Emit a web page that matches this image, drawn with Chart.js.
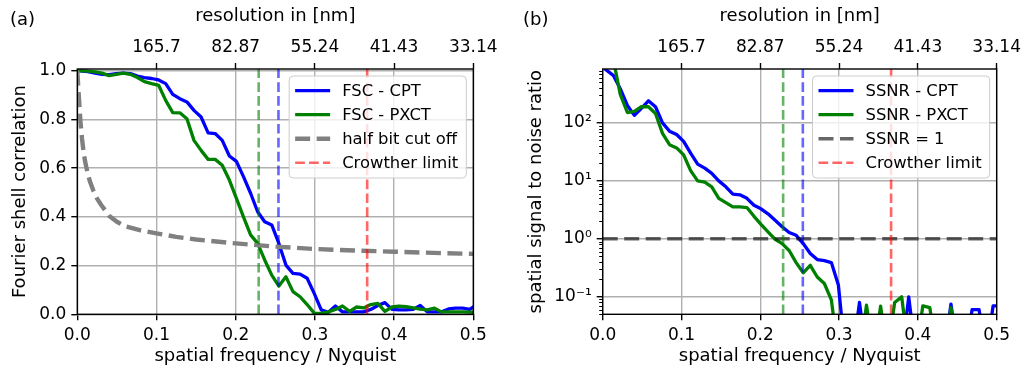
<!DOCTYPE html>
<html>
<head>
<meta charset="utf-8">
<script src="https://cdn.jsdelivr.net/npm/chart.js@4.4.1/dist/chart.umd.min.js"></script>
<style>
  html, body { margin: 0; padding: 0; background: #fff; }
  #wrap { position: relative; width: 1026px; height: 371px; }
  canvas { position: absolute; top: 0; }
  #fsc { left: 0; }
  #ssnr { left: 513px; }
</style>
</head>
<body>
<div id="wrap">
  <canvas id="fsc" width="513" height="371"></canvas>
  <canvas id="ssnr" width="513" height="371"></canvas>
</div>
<script>
// =====================================================
// DATA
// =====================================================
// spatial frequency / Nyquist of each shell
const freq = [0, 0.0134, 0.0223, 0.0313, 0.0402, 0.0491, 0.0580, 0.0670, 0.0759, 0.0848,
  0.0938, 0.1027, 0.1116, 0.1205, 0.1295, 0.1384, 0.1473, 0.1563, 0.1652, 0.1741,
  0.1830, 0.1920, 0.2009, 0.2098, 0.2188, 0.2277, 0.2366, 0.2455, 0.2545, 0.2634,
  0.2723, 0.2813, 0.2902, 0.2991, 0.3080, 0.3170, 0.3259, 0.3348, 0.3438, 0.3527,
  0.3616, 0.3705, 0.3795, 0.3884, 0.3973, 0.4063, 0.4152, 0.4241, 0.4330, 0.4420,
  0.4509, 0.4598, 0.4688, 0.4777, 0.4866, 0.4955, 0.5045];

const fscCpt = [1.0, 0.996, 0.99, 0.985, 0.984, 0.988, 0.99, 0.988, 0.978, 0.972,
  0.968, 0.962, 0.947, 0.903, 0.885, 0.872, 0.837, 0.81, 0.745, 0.742,
  0.714, 0.65, 0.628, 0.565, 0.497, 0.421, 0.38, 0.367, 0.291, 0.202,
  0.168, 0.165, 0.148, 0.086, 0.018, 0.008, 0.034, 0.01, 0.01, 0.01,
  0.01, 0.02, 0.036, 0.048, 0.02, 0.018, 0.018, 0.02, 0.036, 0.01,
  0.01, 0.01, 0.022, 0.025, 0.025, 0.02, 0.04];

const fscPxct = [1.0, 0.998, 0.995, 0.99, 0.98, 0.985, 0.99, 0.985, 0.972, 0.955,
  0.947, 0.94, 0.878, 0.828, 0.827, 0.803, 0.714, 0.673, 0.636, 0.636,
  0.612, 0.551, 0.476, 0.40, 0.326, 0.291, 0.223, 0.161, 0.116, 0.154,
  0.093, 0.072, 0.04, 0.005, 0.004, 0.01, 0.02, 0.034, 0.012, 0.03,
  0.026, 0.04, 0.045, 0.012, 0.03, 0.034, 0.031, 0.026, 0.021, 0.018,
  0.025, 0.01, 0.01, 0.01, 0.01, 0.009, 0.008];

const halfBitFreq = [0, 0.002, 0.004, 0.006, 0.008, 0.01, 0.013, 0.016, 0.02, 0.025,
  0.03, 0.04, 0.05, 0.06, 0.08, 0.1, 0.125, 0.15, 0.2, 0.25, 0.3, 0.35, 0.4, 0.45, 0.5];
const halfBitValues = [1.0, 0.89, 0.79, 0.72, 0.665, 0.625, 0.58, 0.545, 0.51, 0.475,
  0.45, 0.405, 0.38, 0.362, 0.345, 0.332, 0.318, 0.307, 0.291, 0.278, 0.268, 0.262, 0.257, 0.252, 0.248];

const ssnrCpt = [912, 661, 389, 200, 135, 178, 240, 190, 100, 72,
  63, 48, 30, 19.5, 16.6, 13.5, 10, 7.9, 5.9, 5.75,
  5.0, 3.8, 3.3, 2.7, 2.1, 1.62, 1.29, 1.15, 0.83, 0.56,
  0.44, 0.42, 0.39, 0.16, 0.01, 0.01, 0.08, 0.01, 0.01, 0.01,
  0.01, 0.01, 0.01, 0.1, 0.01, 0.01, 0.01, 0.01, 0.01, 0.075,
  0.01, 0.01, 0.06, 0.06, 0.01, 0.07, 0.07];

const ssnrPxct = [3000, 1260, 309, 151, 158, 190, 190, 145, 66, 42,
  37, 28, 15, 10, 9.5, 7.9, 5.0, 4.2, 3.55, 3.55,
  3.47, 2.45, 1.78, 1.32, 0.98, 0.83, 0.63, 0.39, 0.26, 0.35,
  0.22, 0.17, 0.089, 0.01, 0.01, 0.01, 0.01, 0.072, 0.01, 0.069,
  0.01, 0.08, 0.1, 0.01, 0.01, 0.07, 0.065, 0.01, 0.01, 0.065,
  0.01, 0.01, 0.01, 0.01, 0.01, 0.01, 0.01];

const ssnrThreshold = 1;
const cutoffPxct = 0.229;
const cutoffCpt = 0.254;
const crowtherLimit = 0.366;

const bottomTicks = [0, 0.1, 0.2, 0.3, 0.4, 0.5];
const topTicks = [0.1, 0.2, 0.3, 0.4, 0.5];
const topTickLabels = ['165.7', '82.87', '55.24', '41.43', '33.14'];
const fscTicks = [0, 0.2, 0.4, 0.6, 0.8, 1.0];
const ssnrTicks = [0.1, 1, 10, 100];
const ssnrTickLabels = ['10\u207B\u00B9', '10\u2070', '10\u00B9', '10\u00B2'];

// =====================================================
// STYLE
// =====================================================
const FONT = 'DejaVu Sans';
const FS = 17;          // tick labels
const TITLE_FS = 18;    // axis titles
const LEGEND_FS = 16.4; // legend entries
Chart.defaults.font.family = FONT;
Chart.defaults.font.size = FS;
Chart.defaults.color = '#000';
Chart.defaults.animation = false;

const BLUE = '#0000ff';
const GREEN = '#008000';
const GRAY = '#808080';
const DARKGRAY = 'rgba(0,0,0,0.6)';
const RED_A = 'rgba(255,0,0,0.6)';
const BLUE_A = 'rgba(0,0,255,0.6)';
const GREEN_A = 'rgba(0,128,0,0.6)';
const GRID = '#b0b0b0';

const CURVE_W = 3.3;
const VDASH = [9.7, 4.2];
const BIGDASH = [15, 6.5];

const pts = (xs, ys) => xs.map((x, i) => ({ x, y: ys[i] }));
const vline = (x, lo, hi) => [{ x, y: lo }, { x, y: hi }];

function lineSet(label, data, color, width, dash) {
  return {
    label, data,
    borderColor: color, borderWidth: width, borderDash: dash || [],
    borderJoinStyle: 'round',
    pointRadius: 0, fill: false, tension: 0, clip: 0
  };
}

// =====================================================
// PLUGINS
// =====================================================
// black frame around the plot area (all four spines)
const framePlugin = {
  id: 'frame',
  afterDatasetsDraw(chart) {
    const { ctx, chartArea: a } = chart;
    ctx.save();
    ctx.strokeStyle = '#000';
    ctx.lineWidth = 1.4;
    ctx.strokeRect(a.left, a.top, a.right - a.left, a.bottom - a.top);
    ctx.restore();
  }
};

// short minor ticks on a log y axis
const minorTickPlugin = {
  id: 'minorTicks',
  afterDraw(chart, args, opts) {
    if (!opts.enabled) return;
    const { ctx, chartArea: a } = chart;
    const y = chart.scales.y;
    ctx.save();
    ctx.strokeStyle = '#000';
    ctx.lineWidth = 1;
    for (let dec = -2; dec <= 3; dec++) {
      for (let m = 2; m <= 9; m++) {
        const v = m * Math.pow(10, dec);
        if (v < y.min || v > y.max) continue;
        const py = Math.round(y.getPixelForValue(v)) + 0.5;
        ctx.beginPath();
        ctx.moveTo(a.left - 3.5, py);
        ctx.lineTo(a.left, py);
        ctx.stroke();
      }
    }
    ctx.restore();
  }
};

// framed legend in the upper right corner of the plot area, plus panel tag
const boxLegend = {
  id: 'boxLegend',
  afterDraw(chart, args, opts) {
    const { ctx, chartArea: a } = chart;
    const items = opts.items;
    ctx.save();
    ctx.font = LEGEND_FS + 'px "' + FONT + '"';
    const textW = Math.max(...items.map(it => ctx.measureText(it.text).width));
    const rowH = 24, padL = 6, lineLen = 35, gap = 12, padR = 8;
    const w = padL + lineLen + gap + textW + padR;
    const h = rowH * items.length + 6;
    const x0 = a.right - 7 - w;
    const y0 = a.top + 7;

    ctx.beginPath();
    ctx.roundRect(x0, y0, w, h, 4);
    ctx.fillStyle = 'rgba(255,255,255,0.8)';
    ctx.fill();
    ctx.strokeStyle = '#cccccc';
    ctx.lineWidth = 1;
    ctx.stroke();

    items.forEach((it, i) => {
      const cy = y0 + 14.7 + i * rowH;
      ctx.beginPath();
      ctx.setLineDash(it.dash || []);
      ctx.strokeStyle = it.color;
      ctx.lineWidth = it.width;
      ctx.moveTo(x0 + padL, cy);
      ctx.lineTo(x0 + padL + lineLen, cy);
      ctx.stroke();
      ctx.setLineDash([]);
      ctx.fillStyle = '#000';
      ctx.textAlign = 'left';
      ctx.textBaseline = 'middle';
      ctx.fillText(it.text, x0 + padL + lineLen + gap, cy + 1);
    });

    // panel tag, e.g. "(a)"
    ctx.font = TITLE_FS + 'px "' + FONT + '"';
    ctx.textBaseline = 'middle';
    ctx.fillText(opts.tag, 10, 20);
    ctx.restore();
  }
};

// =====================================================
// AXES
// =====================================================
function bottomAxis() {
  return {
    type: 'linear', position: 'bottom', min: 0, max: 0.5,
    afterBuildTicks: s => { s.ticks = bottomTicks.map(v => ({ value: v })); },
    afterFit: s => { s.height = 371 - 314.3; },
    ticks: { callback: v => v.toFixed(1), padding: 5, maxRotation: 0, autoSkip: false },
    grid: { color: GRID, lineWidth: 1.4, tickColor: '#000', tickLength: 6, tickWidth: 1.4 },
    border: { display: false },
    title: { display: true, text: 'spatial frequency / Nyquist', font: { size: TITLE_FS },
      padding: { top: 0, bottom: 4.2 } }
  };
}

function topAxis() {
  return {
    type: 'linear', position: 'top', min: 0, max: 0.5,
    afterBuildTicks: s => { s.ticks = topTicks.map(v => ({ value: v })); },
    afterFit: s => { s.height = 69; },
    ticks: { callback: v => topTickLabels[topTicks.indexOf(v)], padding: 5, maxRotation: 0, autoSkip: false },
    grid: { drawOnChartArea: false, tickColor: '#000', tickLength: 6, tickWidth: 1.4 },
    border: { display: false },
    title: { display: true, text: 'resolution in [nm]', font: { size: TITLE_FS },
      padding: { top: 5.4, bottom: 0 } }
  };
}

// =====================================================
// PANEL (a): Fourier shell correlation
// =====================================================
const FSC_MAX = 1.007;
new Chart(document.getElementById('fsc'), {
  type: 'line',
  data: {
    datasets: [
      lineSet('Crowther limit', vline(crowtherLimit, 0, FSC_MAX), RED_A, 2.6, VDASH),
      lineSet('CPT cutoff', vline(cutoffCpt, 0, FSC_MAX), BLUE_A, 2.6, VDASH),
      lineSet('PXCT cutoff', vline(cutoffPxct, 0, FSC_MAX), GREEN_A, 2.6, VDASH),
      lineSet('half bit cut off', pts(halfBitFreq, halfBitValues), GRAY, 4.4, BIGDASH),
      lineSet('FSC - PXCT', pts(freq, fscPxct), GREEN, CURVE_W),
      lineSet('FSC - CPT', pts(freq, fscCpt), BLUE, CURVE_W)
    ]
  },
  options: {
    responsive: false,
    devicePixelRatio: 1,
    layout: { padding: { left: 0, right: 513 - 473.3, top: 0, bottom: 0 } },
    scales: {
      x: bottomAxis(),
      x2: topAxis(),
      y: {
        type: 'linear', position: 'left', min: 0, max: FSC_MAX,
        afterBuildTicks: s => { s.ticks = fscTicks.map(v => ({ value: v })); },
        afterFit: s => { s.width = 77.3; },
        ticks: { callback: v => v.toFixed(1), padding: 5, autoSkip: false },
        grid: { color: GRID, lineWidth: 1.4, tickColor: '#000', tickLength: 6, tickWidth: 1.4 },
        border: { display: false },
        title: { display: true, text: 'Fourier shell correlation', font: { size: TITLE_FS },
          padding: { top: 9.4, bottom: 0 } }
      }
    },
    plugins: {
      legend: { display: false },
      tooltip: { enabled: false },
      minorTicks: { enabled: false },
      boxLegend: {
        tag: '(a)',
        items: [
          { text: 'FSC - CPT', color: BLUE, width: CURVE_W },
          { text: 'FSC - PXCT', color: GREEN, width: CURVE_W },
          { text: 'half bit cut off', color: GRAY, width: 4.4, dash: BIGDASH },
          { text: 'Crowther limit', color: RED_A, width: 2.6, dash: VDASH }
        ]
      }
    }
  },
  plugins: [framePlugin, minorTickPlugin, boxLegend]
});

// =====================================================
// PANEL (b): spectral signal to noise ratio
// =====================================================
const SSNR_MIN = 0.05, SSNR_MAX = 850;
new Chart(document.getElementById('ssnr'), {
  type: 'line',
  data: {
    datasets: [
      lineSet('Crowther limit', vline(crowtherLimit, SSNR_MIN, SSNR_MAX), RED_A, 2.6, VDASH),
      lineSet('CPT cutoff', vline(cutoffCpt, SSNR_MIN, SSNR_MAX), BLUE_A, 2.6, VDASH),
      lineSet('PXCT cutoff', vline(cutoffPxct, SSNR_MIN, SSNR_MAX), GREEN_A, 2.6, VDASH),
      lineSet('SSNR = 1', [{ x: 0, y: ssnrThreshold }, { x: 0.5, y: ssnrThreshold }], DARKGRAY, 3.5, BIGDASH),
      lineSet('SSNR - PXCT', pts(freq, ssnrPxct), GREEN, CURVE_W),
      lineSet('SSNR - CPT', pts(freq, ssnrCpt), BLUE, CURVE_W)
    ]
  },
  options: {
    responsive: false,
    devicePixelRatio: 1,
    layout: { padding: { left: 0, right: 1026 - 999, top: 0, bottom: 0 } },
    scales: {
      x: bottomAxis(),
      x2: topAxis(),
      y: {
        type: 'logarithmic', position: 'left', min: SSNR_MIN, max: SSNR_MAX,
        afterBuildTicks: s => { s.ticks = ssnrTicks.map(v => ({ value: v })); },
        afterFit: s => { s.width = 602.7 - 513; },
        ticks: { callback: v => ssnrTickLabels[ssnrTicks.indexOf(v)], padding: 5, autoSkip: false },
        grid: { color: GRID, lineWidth: 1.4, tickColor: '#000', tickLength: 6, tickWidth: 1.4 },
        border: { display: false },
        title: { display: true, text: 'spatial signal to noise ratio', font: { size: TITLE_FS },
          padding: { top: 12.4, bottom: 0 } }
      }
    },
    plugins: {
      legend: { display: false },
      tooltip: { enabled: false },
      minorTicks: { enabled: true },
      boxLegend: {
        tag: '(b)',
        items: [
          { text: 'SSNR - CPT', color: BLUE, width: CURVE_W },
          { text: 'SSNR - PXCT', color: GREEN, width: CURVE_W },
          { text: 'SSNR = 1', color: DARKGRAY, width: 3.5, dash: BIGDASH },
          { text: 'Crowther limit', color: RED_A, width: 2.6, dash: VDASH }
        ]
      }
    }
  },
  plugins: [framePlugin, minorTickPlugin, boxLegend]
});
</script>
</body>
</html>
